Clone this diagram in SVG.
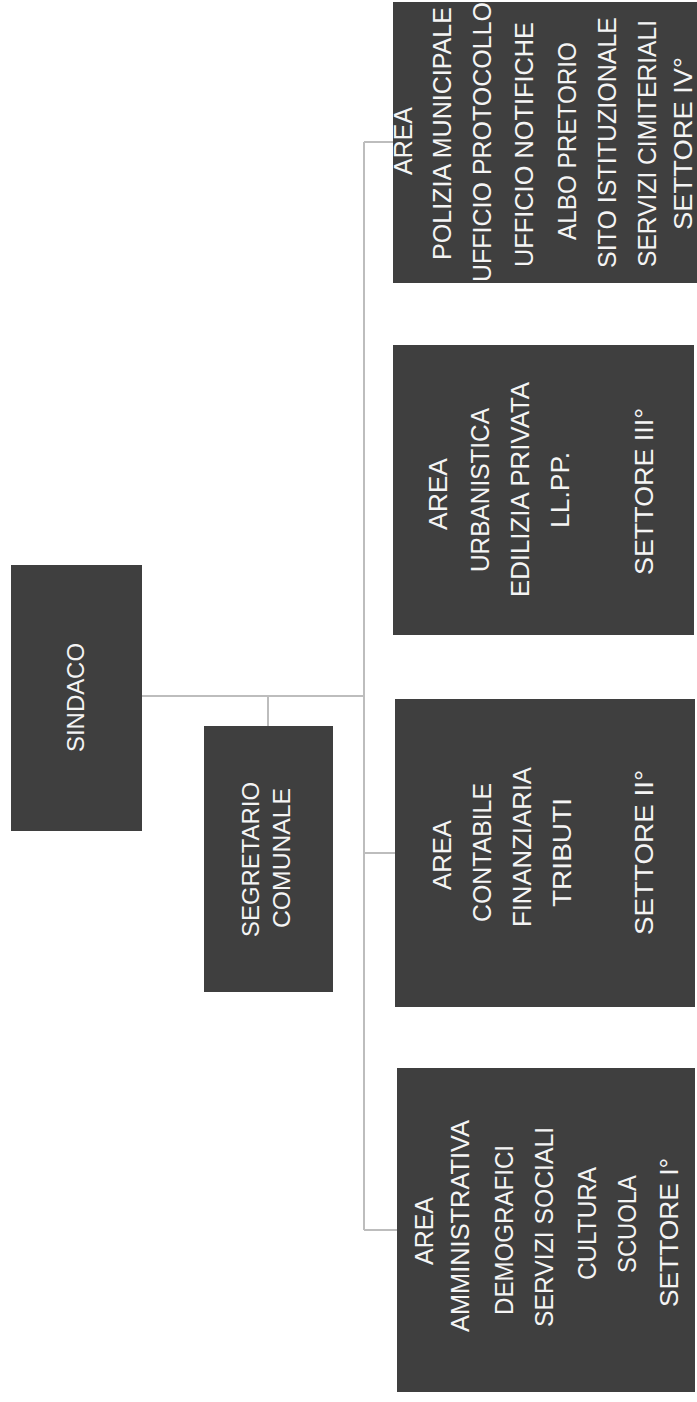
<svg xmlns="http://www.w3.org/2000/svg" width="697" height="1402" viewBox="0 0 697 1402">
<style>
.box{fill:#3f3f3f;}
.t{font-family:"Liberation Sans","Open Sans",sans-serif;font-size:25px;fill:#f4f4f4;text-anchor:middle;}
.s{font-size:24px;}
.c{stroke:#bdbdbd;stroke-width:2;fill:none;}
</style>
<rect width="697" height="1402" fill="#ffffff"/>
<g id="connectors">
<path class="c" d="M142 696 H364 M268 696 V726 M364 142 V1230 M364 142 H393 M364 853 H395 M364 1230 H397"/>
</g>
<g id="sindaco">
<rect class="box" x="11" y="565" width="131" height="266"/>
<text class="t s" transform="translate(84,697.5) rotate(-90)" textLength="109" lengthAdjust="spacingAndGlyphs">SINDACO</text>
</g>
<g id="segretario">
<rect class="box" x="204" y="726" width="129" height="266"/>
<text class="t s" transform="translate(259,859.5) rotate(-90)" textLength="155" lengthAdjust="spacingAndGlyphs">SEGRETARIO</text>
<text class="t s" transform="translate(290,858) rotate(-90)" textLength="140" lengthAdjust="spacingAndGlyphs">COMUNALE</text>
</g>
<g id="settore4">
<rect class="box" x="393" y="2" width="304" height="281"/>
<text class="t" transform="translate(412,141) rotate(-90)" textLength="68" lengthAdjust="spacingAndGlyphs">AREA</text>
<text class="t" transform="translate(451,133.5) rotate(-90)" textLength="253" lengthAdjust="spacingAndGlyphs">POLIZIA MUNICIPALE</text>
<text class="t" transform="translate(491,142) rotate(-90)" textLength="280" lengthAdjust="spacingAndGlyphs">UFFICIO PROTOCOLLO</text>
<text class="t" transform="translate(533,144.5) rotate(-90)" textLength="245" lengthAdjust="spacingAndGlyphs">UFFICIO NOTIFICHE</text>
<text class="t" transform="translate(576,141) rotate(-90)" textLength="198" lengthAdjust="spacingAndGlyphs">ALBO PRETORIO</text>
<text class="t" transform="translate(616,142.5) rotate(-90)" textLength="251" lengthAdjust="spacingAndGlyphs">SITO ISTITUZIONALE</text>
<text class="t" transform="translate(656,143.5) rotate(-90)" textLength="247" lengthAdjust="spacingAndGlyphs">SERVIZI CIMITERIALI</text>
<text class="t" transform="translate(692,143.5) rotate(-90)" textLength="173" lengthAdjust="spacingAndGlyphs">SETTORE   IV°</text>
</g>
<g id="settore3">
<rect class="box" x="393" y="345" width="301" height="290"/>
<text class="t" transform="translate(447,494) rotate(-90)" textLength="72" lengthAdjust="spacingAndGlyphs">AREA</text>
<text class="t" transform="translate(489,490) rotate(-90)" textLength="164" lengthAdjust="spacingAndGlyphs">URBANISTICA</text>
<text class="t" transform="translate(529,489.5) rotate(-90)" textLength="215" lengthAdjust="spacingAndGlyphs">EDILIZIA PRIVATA</text>
<text class="t" transform="translate(569,490) rotate(-90)" textLength="76" lengthAdjust="spacingAndGlyphs">LL.PP.</text>
<text class="t" transform="translate(653,491.5) rotate(-90)" textLength="167" lengthAdjust="spacingAndGlyphs">SETTORE   III°</text>
</g>
<g id="settore2">
<rect class="box" x="395" y="699" width="300" height="308"/>
<text class="t" transform="translate(451,855) rotate(-90)" textLength="70" lengthAdjust="spacingAndGlyphs">AREA</text>
<text class="t" transform="translate(491,852.5) rotate(-90)" textLength="139" lengthAdjust="spacingAndGlyphs">CONTABILE</text>
<text class="t" transform="translate(531,847) rotate(-90)" textLength="160" lengthAdjust="spacingAndGlyphs">FINANZIARIA</text>
<text class="t" transform="translate(571,852.5) rotate(-90)" textLength="109" lengthAdjust="spacingAndGlyphs">TRIBUTI</text>
<text class="t" transform="translate(653,852.5) rotate(-90)" textLength="165" lengthAdjust="spacingAndGlyphs">SETTORE   II°</text>
</g>
<g id="settore1">
<rect class="box" x="397" y="1068" width="298" height="324"/>
<text class="t" transform="translate(433,1231) rotate(-90)" textLength="68" lengthAdjust="spacingAndGlyphs">AREA</text>
<text class="t" transform="translate(469,1226) rotate(-90)" textLength="212" lengthAdjust="spacingAndGlyphs">AMMINISTRATIVA</text>
<text class="t" transform="translate(513,1230) rotate(-90)" textLength="170" lengthAdjust="spacingAndGlyphs">DEMOGRAFICI</text>
<text class="t" transform="translate(553,1227) rotate(-90)" textLength="200" lengthAdjust="spacingAndGlyphs">SERVIZI SOCIALI</text>
<text class="t" transform="translate(596,1223.5) rotate(-90)" textLength="113" lengthAdjust="spacingAndGlyphs">CULTURA</text>
<text class="t" transform="translate(636,1224) rotate(-90)" textLength="98" lengthAdjust="spacingAndGlyphs">SCUOLA</text>
<text class="t" transform="translate(678,1232.5) rotate(-90)" textLength="149" lengthAdjust="spacingAndGlyphs">SETTORE   I°</text>
</g>
</svg>
